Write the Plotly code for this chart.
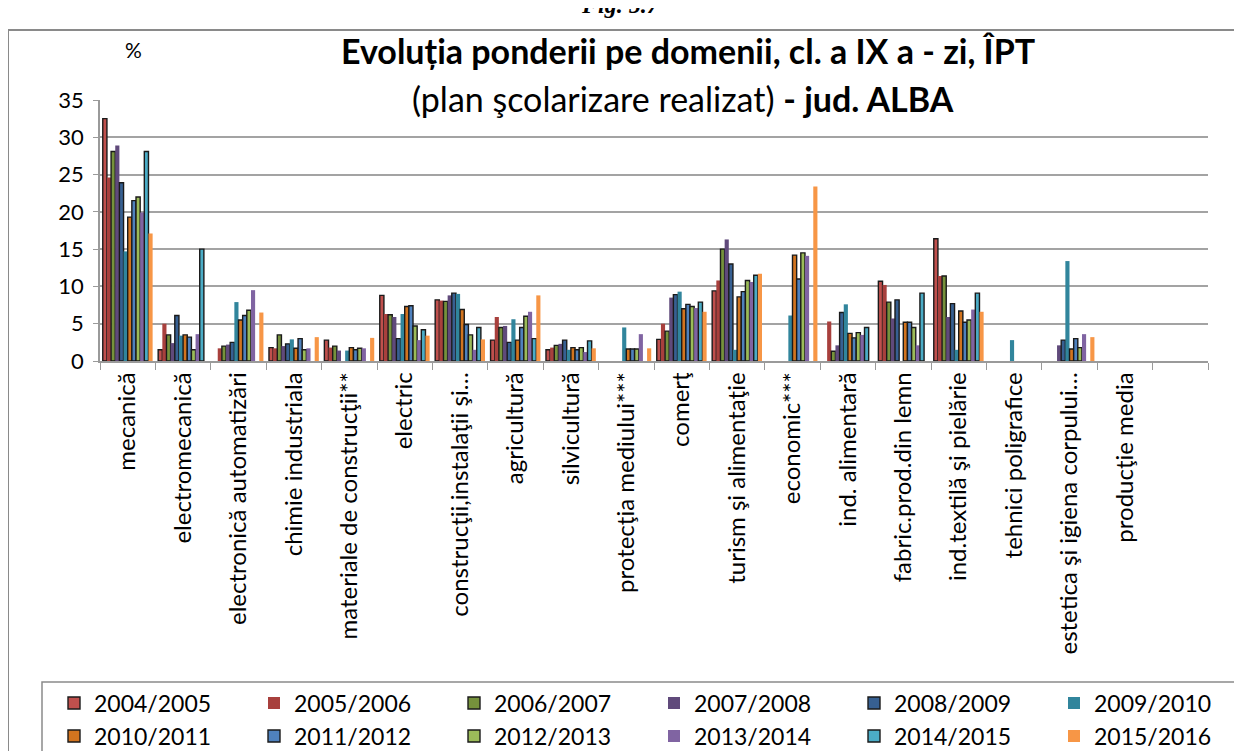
import plotly.graph_objects as go

categories = ["mecanică", "electromecanică", "electronică automatizări", "chimie industriala",
              "materiale de construcţii**", "electric", "construcţii,instalaţii şi…", "agricultură",
              "silvicultură", "protecţia mediului***", "comerţ", "turism şi alimentaţie",
              "economic***", "ind. alimentară", "fabric.prod.din lemn", "ind.textilă şi pielărie",
              "tehnici poligrafice", "estetica şi igiena corpului…", "producţie media", " "]

years = ["2004/2005", "2005/2006", "2006/2007", "2007/2008", "2008/2009", "2009/2010",
         "2010/2011", "2011/2012", "2012/2013", "2013/2014", "2014/2015", "2015/2016"]

v0405 = [32.5, 1.5, 0, 1.8, 2.8, 8.8, 8.2, 2.8, 1.5, 0, 2.9, 9.4, 0, 0, 10.7, 16.4, 0, 0, 0, 0]
v0506 = [24.6, 5.0, 1.7, 1.7, 1.8, 6.3, 8.1, 5.9, 1.8, 0, 5.0, 10.8, 0, 5.3, 10.2, 11.4, 0, 0, 0, 0]
v0607 = [28.1, 3.5, 2.0, 3.5, 2.0, 6.2, 8.0, 4.5, 2.1, 0, 4.0, 15.0, 0, 1.3, 7.9, 11.4, 0, 0, 0, 0]
v0708 = [28.9, 2.4, 2.2, 2.0, 1.4, 5.9, 8.8, 4.7, 2.3, 0, 8.5, 16.3, 0, 2.1, 5.7, 5.9, 0, 2.1, 0, 0]
v0809 = [23.9, 6.1, 2.5, 2.3, 0, 3.0, 9.1, 2.5, 2.8, 0, 8.9, 13.0, 0, 6.5, 8.2, 7.7, 0, 2.8, 0, 0]
v0910 = [14.7, 3.4, 7.9, 2.9, 1.4, 6.3, 9.0, 5.6, 1.5, 4.5, 9.3, 1.5, 6.1, 7.6, 0, 1.5, 2.8, 13.4, 0, 0]
v1011 = [19.3, 3.5, 5.5, 1.7, 1.8, 7.3, 6.9, 2.8, 1.8, 1.6, 7.0, 8.6, 14.2, 3.7, 5.2, 6.7, 0, 1.6, 0, 0]
v1112 = [21.5, 3.2, 6.1, 3.0, 1.5, 7.4, 4.9, 4.5, 1.5, 1.6, 7.6, 9.3, 11.0, 3.1, 5.2, 5.2, 0, 3.0, 0, 0]
v1213 = [22.0, 1.5, 6.8, 1.5, 1.7, 4.7, 3.5, 6.0, 1.8, 1.6, 7.3, 10.8, 14.5, 3.8, 4.5, 5.5, 0, 1.8, 0, 0]
v1314 = [19.9, 3.6, 9.5, 1.7, 1.7, 2.8, 1.5, 6.6, 1.2, 3.6, 7.1, 10.6, 14.1, 3.5, 2.1, 6.9, 0, 3.6, 0, 0]
v1415 = [28.1, 15.0, 0, 0, 0, 4.2, 4.5, 3.0, 2.7, 0, 7.9, 11.5, 0, 4.5, 9.1, 9.1, 0, 0, 0, 0]
v1516 = [17.1, 0, 6.5, 3.2, 3.1, 3.4, 2.9, 8.8, 1.7, 1.7, 6.6, 11.7, 23.4, 0, 0, 6.6, 0, 3.2, 0, 0]

series = [v0405, v0506, v0607, v0708, v0809, v0910, v1011, v1112, v1213, v1314, v1415, v1516]
colors = ["#C0504D", "#A8403D", "#76923C", "#604A7B", "#376092", "#31859C",
          "#D2741F", "#4F81BD", "#9BBB59", "#8064A2", "#4BACC6", "#F79646"]
bordered = [True, False, True, False, True, False, True, True, True, False, True, False]

FONT = "Lato"
OFF = 8  # page body margin
W, H = 1242, 751
# target plot area on screen: x 100..1208, y 100..361
ML, MT = 100 - OFF, 100 - OFF
PW, PH = 1108, 261
MR = W - ML - PW
MB = H - MT - PH


def px(x):
    return (x - OFF - ML) / PW


def py(y):
    return (MT + PH - (y - OFF)) / PH


fig = go.Figure()
for i, (name, vals) in enumerate(zip(years, series)):
    fig.add_trace(go.Bar(
        x=categories, y=[v if v else None for v in vals], name=name,
        marker=dict(color=colors[i],
                    line=dict(color="#1a1a1a", width=1.4 if bordered[i] else 0)),
        legend="legend" if i < 6 else "legend2",
    ))

leg_common = dict(orientation="h", xanchor="left", yanchor="middle",
                  entrywidth=155, entrywidthmode="pixels", font=dict(size=23, family=FONT),
                  bgcolor="rgba(0,0,0,0)", borderwidth=0, itemwidth=30)

fig.update_layout(
    width=W, height=H,
    margin=dict(l=ML, r=MR, t=MT, b=MB, autoexpand=False),
    paper_bgcolor="white", plot_bgcolor="white",
    barmode="group", bargap=0.1, bargroupgap=0,
    font=dict(family=FONT, size=21, color="#000"),
    showlegend=True,
    legend=dict(x=px(54), y=py(703), **leg_common),
    legend2=dict(x=px(54), y=py(736), **leg_common),
    xaxis=dict(type="category", showline=True, linecolor="#9a9a9a", linewidth=1.5,
               ticks="outside", tickson="boundaries", ticklen=7, tickcolor="#9a9a9a",
               tickangle=-90, tickfont=dict(size=24, family=FONT), showgrid=False,
               automargin=False),
    yaxis=dict(range=[0, 35], dtick=5, showgrid=True, gridcolor="#A3A3A3", gridwidth=2,
               showline=True, linecolor="#9a9a9a", linewidth=1.5, ticks="outside",
               ticklen=5, tickcolor="#9a9a9a", tickfont=dict(size=22, family=FONT),
               ticklabelstandoff=5, zeroline=False, fixedrange=True, automargin=False),
    shapes=[
        dict(type="rect", xref="paper", yref="paper", x0=px(8), x1=px(1265), y0=py(30), y1=py(775),
             line=dict(color="#8a8a8a", width=2), fillcolor="rgba(0,0,0,0)", layer="below"),
        dict(type="rect", xref="paper", yref="paper", x0=px(42), x1=px(1265), y0=py(682), y1=py(775),
             line=dict(color="#8a8a8a", width=1.5), fillcolor="rgba(0,0,0,0)", layer="below"),
    ],
    annotations=[
        dict(text="<b><i>Fig. 5.7</i></b>", xref="paper", yref="paper", x=px(620), y=py(20),
             xanchor="center", yanchor="bottom", showarrow=False,
             font=dict(family="Liberation Serif", size=24)),
        dict(text="%", xref="paper", yref="paper", x=px(133), y=py(50), xanchor="center",
             yanchor="middle", showarrow=False, font=dict(size=21)),
        dict(text="<b>Evoluția ponderii pe domenii, cl. a IX a - zi, ÎPT</b>", xref="paper",
             yref="paper", x=px(688), y=py(51), xanchor="center", yanchor="middle",
             showarrow=False, font=dict(size=34)),
        dict(text="(plan şcolarizare realizat) <b>- jud. ALBA</b>", xref="paper", yref="paper",
             x=px(683), y=py(99), xanchor="center", yanchor="middle", showarrow=False,
             font=dict(size=34)),
    ],
)

fig.write_html("out.html")
